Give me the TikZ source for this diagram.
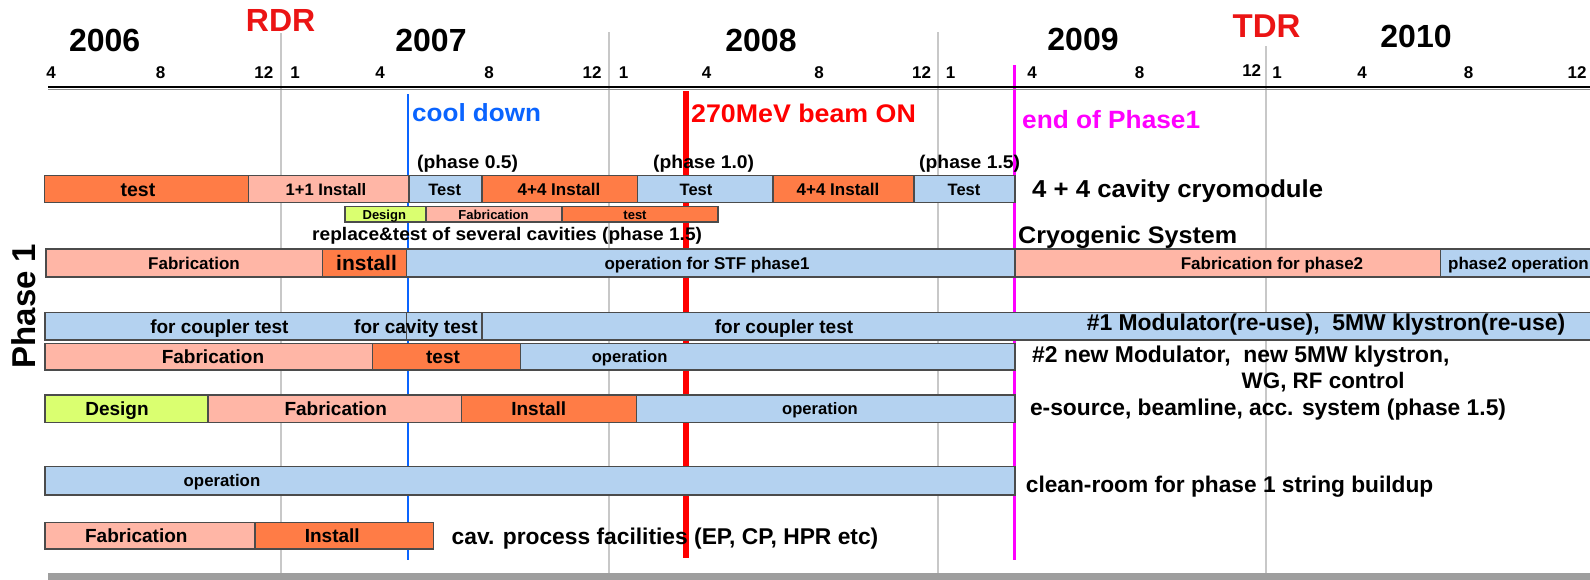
\documentclass[tikz,border=0pt]{standalone}
\usepackage{fontspec}
\setmainfont{Liberation Sans}
\newfontfamily\widefont{Liberation Sans}[FakeStretch=1.05]
\definecolor{orng}{RGB}{255,124,70}
\definecolor{salm}{RGB}{255,182,166}
\definecolor{lblue}{RGB}{180,210,240}
\definecolor{lime}{RGB}{218,255,112}
\definecolor{segline}{RGB}{75,75,75}
\definecolor{gridg}{RGB}{200,200,200}
\definecolor{cblue}{RGB}{10,100,255}
\definecolor{bred}{RGB}{255,0,0}
\definecolor{tred}{RGB}{235,20,20}
\definecolor{mag}{RGB}{255,0,255}
\tikzset{
  seg/.style={draw=segline,line width=1.2pt,inner sep=0pt,outer sep=0pt},
  orseg/.style={seg,fill=orng},
  saseg/.style={seg,fill=salm},
  blseg/.style={seg,fill=lblue},
  liseg/.style={seg,fill=lime},
  tf/.style={inner sep=0pt,font=\bfseries\fontsize{#1}{#1}\selectfont,text height={0.72*#1},text depth=0pt},
  wf/.style={inner sep=0pt,font=\widefont\bfseries\fontsize{#1}{#1}\selectfont},
  rf/.style={inner sep=0pt,font=\bfseries\fontsize{#1}{#1}\selectfont},
  gridline/.style={draw=gridg,line width=1.8pt},
}
% name, fill style, label size, x1, x2, y1, y2, label x, text
\newcommand{\gseg}[9]{%
  \node[#2,minimum width={(#5-#4)*1pt},minimum height={(#7-#6)*1pt}] (#1) at ({(#4+#5)/2},{(#6+#7)/2}) {};
  \node[tf=#3] (#1l) at (#8,{(#6+#7)/2}) {#9};}
\begin{document}
\begin{tikzpicture}[x=1pt,y=-1pt]
\useasboundingbox (0,0) rectangle (1590,579);
\clip (0,0) rectangle (1590,579);
\fill[white] (0,0) rectangle (1590,579);

% year grid lines
\draw[gridline] (280.6,33) -- (280.6,573);
\draw[gridline] (608.7,32) -- (608.7,573);
\draw[gridline] (938,32) -- (938,573);
\draw[gridline] (1266,46) -- (1266,573);

% milestone lines
\draw[cblue,line width=2.6pt] (408,94) -- (408,560);
\draw[bred,line width=5.5pt] (686,91) -- (686,558);
\draw[mag,line width=2.4pt] (1014.5,65) -- (1014.5,560);

% axis
\draw[black,line width=2.6pt] (48,87) -- (1600,87);
\draw[black!45,line width=0.8pt] (48,89.4) -- (1600,89.4);

% bottom bar
\fill[black!38] (48,572.7) rectangle (1600,585);

% years and reviews
\node[rf=32,anchor=base] (y2006) at (104.6,51.5) {2006};
\node[rf=32,anchor=base] (y2007) at (431,51.5) {2007};
\node[rf=32,anchor=base] (y2008) at (761,51.5) {2008};
\node[rf=32,anchor=base] (y2009) at (1083,50) {2009};
\node[rf=32,anchor=base] (y2010) at (1416,47) {2010};
\node[rf=32,anchor=base,text=tred] (rdr) at (280.6,31.5) {RDR};
\node[rf=33,anchor=base,text=tred] (tdr) at (1266.5,37) {TDR};

% month labels
\foreach \x/\m [count=\i] in {51/4,160.7/8,263.8/12,295/1,380/4,489/8,592/12,623.5/1,706.6/4,819/8,921.6/12,950.7/1,1032/4,1139.5/8,1277/1,1362/4,1468.6/8,1577/12}
  \node[rf=17,anchor=base] (mon\i) at (\x,78.5) {\m};
\node[rf=17,anchor=base] (mon19) at (1251.7,76) {12};

% milestone labels
\node[wf=24.8,anchor=base west,text=cblue] (cool) at (412,121.7) {cool down};
\node[wf=25.5,anchor=base west,text=bred] (beam) at (691,122) {270MeV beam ON};
\node[wf=25,anchor=base west,text=mag] (endp) at (1022,128) {end of Phase1};

% phase labels
\node[wf=18.4,anchor=base west] (ph05) at (417,168.5) {(phase 0.5)};
\node[wf=18.4,anchor=base west] (ph10) at (653,168.5) {(phase 1.0)};
\node[wf=18.4,anchor=base west] (ph15) at (919,168.5) {(phase 1.5)};

% row 1: cryomodule
\gseg{r1a}{orseg}{19.5}{44.4}{248.5}{175.7}{202.7}{138}{test}
\gseg{r1b}{saseg}{16.6}{248.5}{409}{175.7}{202.7}{326}{1+1 Install}
\gseg{r1c}{blseg}{16.5}{409}{482}{175.7}{202.7}{444.7}{Test}
\gseg{r1d}{orseg}{17}{482}{637.8}{175.7}{202.7}{559}{4+4 Install}
\gseg{r1e}{blseg}{16.5}{637.8}{773}{175.7}{202.7}{696}{Test}
\gseg{r1f}{orseg}{17}{773}{914}{175.7}{202.7}{838}{4+4 Install}
\gseg{r1g}{blseg}{16.5}{914}{1015}{175.7}{202.7}{964}{Test}
\node[wf=24.5,anchor=base west] (cryomod) at (1032,197.5) {4 + 4 cavity cryomodule};

% small row
\gseg{s1}{liseg}{13}{345}{426}{206.7}{222}{384.3}{Design}
\gseg{s2}{saseg}{13}{426}{562}{206.7}{222}{493.5}{Fabrication}
\gseg{s3}{orseg}{13}{562}{718}{206.7}{222}{635}{test}
\node[wf=18.2,anchor=base west] (replace) at (312,240) {replace\&test of several cavities (phase 1.5)};
\node[wf=23.9,anchor=base west] (cryo) at (1018,243.5) {Cryogenic System};

% row 2: cryogenic
\gseg{r2a}{saseg}{17}{46}{322.4}{249}{277}{194}{Fabrication}
\gseg{r2b}{orseg}{21}{322.4}{406.6}{249}{277}{366.5}{install}
\gseg{r2c}{blseg}{17}{406.6}{1015}{249}{277}{707}{operation for STF phase1}
\gseg{r2d}{saseg}{17}{1015}{1440.5}{249}{277}{1272}{Fabrication for phase2}
\gseg{r2e}{blseg}{17}{1440.5}{1600}{249}{277}{1518.5}{phase2 operation}

% row 3: modulator 1
\gseg{r3a}{blseg}{19}{45}{406.6}{312.7}{340}{219.4}{for coupler test}
\gseg{r3b}{blseg}{19}{406.6}{482}{312.7}{340}{416}{for cavity test}
\gseg{r3c}{blseg}{19}{482}{1600}{312.7}{340}{784}{for coupler test}
\node[rf=22.9,anchor=base] (mod1) at (1326,330) {\#1 Modulator(re-use),\ \ 5MW klystron(re-use)};

% row 4: modulator 2
\gseg{r4a}{saseg}{19}{45}{372.4}{343.3}{370}{213}{Fabrication}
\gseg{r4b}{orseg}{19}{372.4}{520.4}{343.3}{370}{443}{test}
\gseg{r4c}{blseg}{16.6}{520.4}{1015}{343.3}{370}{629.6}{operation}
\node[rf=22.9,anchor=base west] (mod2) at (1032,362) {\#2 new Modulator,\ \ new 5MW klystron,};
\node[rf=22.4,anchor=base west] (wgrf) at (1241.5,388) {WG, RF control};

% row 5: e-source
\gseg{r5a}{liseg}{19}{45}{208}{395}{422.3}{117}{Design}
\gseg{r5b}{saseg}{19}{208}{461.7}{395}{422.3}{335.7}{Fabrication}
\gseg{r5c}{orseg}{19}{461.7}{636.7}{395}{422.3}{538.8}{Install}
\gseg{r5d}{blseg}{16.6}{636.7}{1015}{395}{422.3}{820}{operation}
\node[rf=22.8,anchor=base west] (esrc) at (1029.8,415.6) {e-source, beamline, acc. system (phase 1.5)};

% row 6: clean room
\gseg{r6a}{blseg}{16.8}{45}{1015}{466.7}{495}{222}{operation}
\node[rf=22.7,anchor=base west] (clean) at (1025.7,492.4) {clean-room for phase 1 string buildup};

% row 7: cavity process
\gseg{r7a}{saseg}{19}{45}{255}{522.7}{549}{136.3}{Fabrication}
\gseg{r7b}{orseg}{19}{255}{433.7}{522.7}{549}{332.3}{Install}
\node[rf=22.8,anchor=base west] (cavp) at (451.5,544) {cav. process facilities (EP, CP, HPR etc)};

% phase title
\node[rf=33,rotate=90,anchor=center] (phase1) at (24,306) {Phase 1};
\end{tikzpicture}
\end{document}
